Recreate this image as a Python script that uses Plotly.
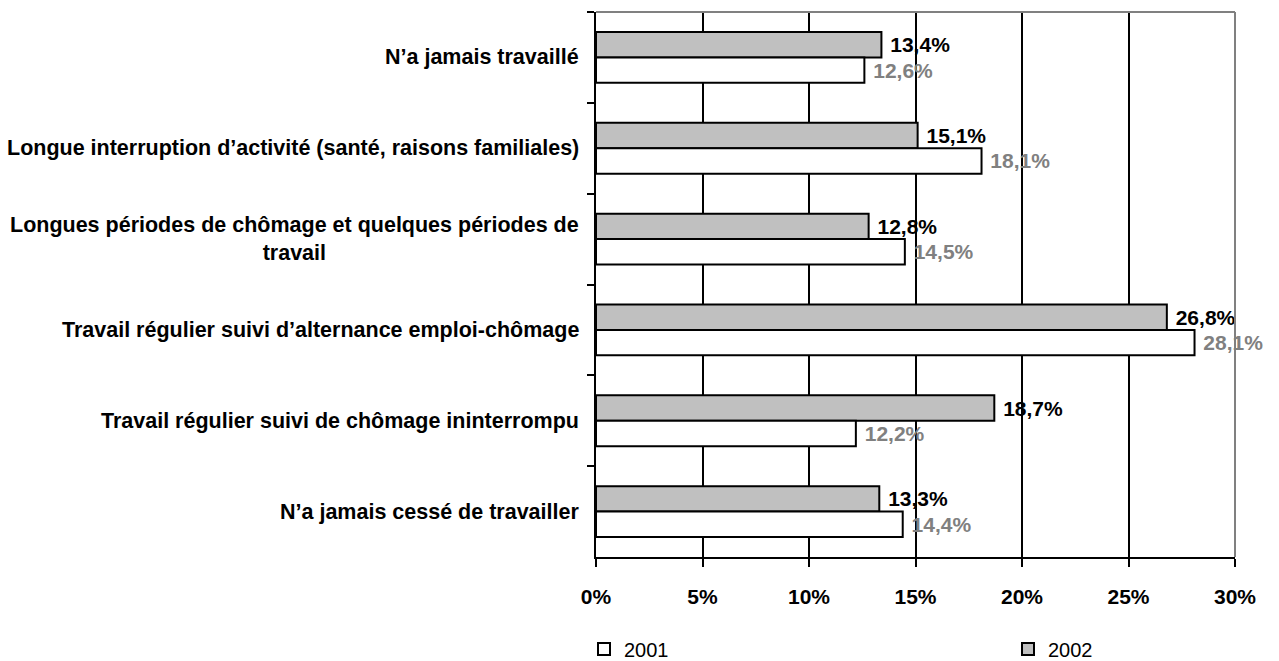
import plotly.graph_objects as go

categories = [
    "N’a jamais travaillé",
    "Longue interruption d’activité (santé, raisons familiales)",
    "Longues périodes de chômage et quelques périodes de<br>travail",
    "Travail régulier suivi d’alternance emploi-chômage",
    "Travail régulier suivi de chômage ininterrompu",
    "N’a jamais cessé de travailler",
]
values_2002 = [13.4, 15.1, 12.8, 26.8, 18.7, 13.3]
values_2001 = [12.6, 18.1, 14.5, 28.1, 12.2, 14.4]
x_ticks = [0, 5, 10, 15, 20, 25, 30]
x_tick_labels = ["0%", "5%", "10%", "15%", "20%", "25%", "30%"]

FONT = "Arial, Liberation Sans, sans-serif"


def fmt(v):
    return "\u00a0" + f"{v:.1f}".replace(".", ",") + "%"


fig = go.Figure()
fig.add_trace(go.Bar(
    y=categories, x=values_2002, orientation="h", name="2002",
    marker=dict(color="#c0c0c0", line=dict(color="black", width=2)),
    text=[fmt(v) for v in values_2002], textposition="outside",
    textfont=dict(family=FONT, size=21, color="black", weight="bold"),
    cliponaxis=False, constraintext="none", legend="legend2",
))
fig.add_trace(go.Bar(
    y=categories, x=values_2001, orientation="h", name="2001",
    marker=dict(color="white", line=dict(color="black", width=2)),
    text=[fmt(v) for v in values_2001], textposition="outside",
    textfont=dict(family=FONT, size=21, color="#808080", weight="bold"),
    cliponaxis=False, constraintext="none", legend="legend",
))

for c in categories:
    fig.add_annotation(
        x=0, xref="paper", y=c, yref="y", xshift=-15,
        xanchor="right", yanchor="middle", align="center",
        text=c, showarrow=False,
        font=dict(family=FONT, size=21.5, color="black", weight="bold"),
    )

# top and right frame (gray)
fig.add_shape(type="line", xref="paper", yref="paper", x0=0, x1=1, y0=1, y1=1,
              line=dict(color="#808080", width=2), layer="above")
fig.add_shape(type="line", xref="paper", yref="paper", x0=1, x1=1, y0=0, y1=1,
              line=dict(color="#808080", width=2), layer="above")

legend_common = dict(
    orientation="h", xref="container", yref="container",
    y=(661 - 649) / 661, xanchor="left", yanchor="middle",
    font=dict(family=FONT, size=20, color="black"),
    bgcolor="rgba(0,0,0,0)", itemclick=False, itemdoubleclick=False,
)

fig.update_layout(
    width=1279, height=661,
    margin=dict(l=596, r=44, t=12, b=104, autoexpand=False),
    paper_bgcolor="white", plot_bgcolor="white",
    barmode="group", bargap=0.44, bargroupgap=0,
    font=dict(family=FONT, size=20, color="black"),
    showlegend=True,
    legend=dict(x=584 / 1279, **legend_common),
    legend2=dict(x=1008 / 1279, **legend_common),
    xaxis=dict(
        range=[0, 30], tickvals=x_ticks, ticktext=x_tick_labels,
        showgrid=True, gridcolor="black", gridwidth=2,
        showline=True, linecolor="black", linewidth=2,
        ticks="outside", ticklen=8, tickwidth=2, tickcolor="black",
        tickfont=dict(family=FONT, size=21, color="black", weight="bold"),
        ticklabelstandoff=12, zeroline=False, fixedrange=True,
        automargin=False,
    ),
    yaxis=dict(
        autorange="reversed", showticklabels=False,
        showline=True, linecolor="black", linewidth=2,
        ticks="outside", tickson="boundaries", ticklen=7, tickwidth=2,
        tickcolor="black", showgrid=False, fixedrange=True,
        automargin=False,
    ),
)

fig.write_html(
    "out.html",
    config={"displayModeBar": False},
    post_script="document.body.style.margin='0';document.body.style.overflow='hidden';",
)
